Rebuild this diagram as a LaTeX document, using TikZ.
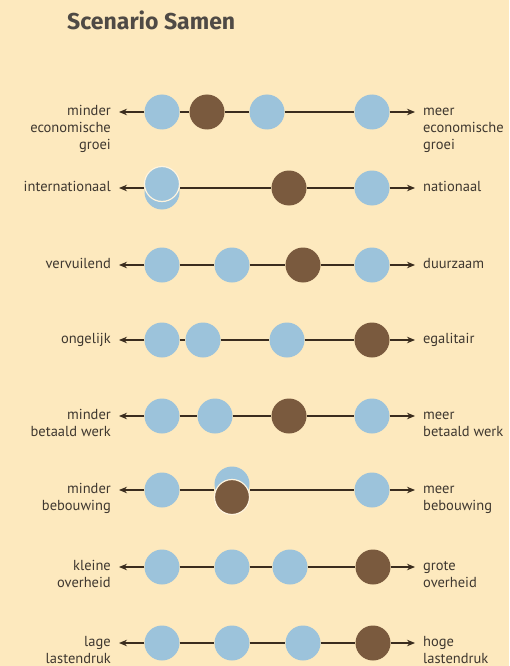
\documentclass[tikz,border=0pt]{standalone}
\usepackage{fontspec}
\setmainfont{PT Sans}
\newfontfamily\ttlfont{Fira Sans}
\usetikzlibrary{arrows.meta}
\definecolor{bg}{HTML}{FDE9BE}
\definecolor{bluec}{HTML}{9CC3DB}
\definecolor{brownc}{HTML}{7A5A3E}
\definecolor{linec}{HTML}{3A2C1E}
\definecolor{txt}{HTML}{3F3830}
\definecolor{ttl}{HTML}{4F4A45}
\begin{document}
\begin{tikzpicture}[x=1pt,y=-1pt,
  dot/.style={circle,inner sep=0pt,minimum size=35pt},
  bdot/.style={dot,fill=bluec},
  rdot/.style={dot,fill=brownc},
  topdot/.style={draw={rgb,255:red,255;green,244;blue,222},line width=1.2pt},
  conn/.style={draw=linec,line width=1.1pt},
  arr/.style={conn,-{Stealth[length=8pt,width=6.5pt]}},
  lbl/.style={text=txt,font=\fontsize{14.5}{17}\selectfont,inner sep=0pt},
  llbl/.style={lbl,anchor=base east,align=right},
  rlbl/.style={lbl,anchor=base west,align=left}]
\fill[bg] (0,0) rectangle (509,666);
\useasboundingbox (0,0) rectangle (509,666);
\node[anchor=base west,inner sep=0pt,text=ttl,font=\ttlfont\fontsize{23}{26}\selectfont\bfseries] (title) at (67,30) {Scenario Samen};
% row 1
\node[bdot] (a1) at (162,112) {};
\node[rdot] (b1) at (207,112) {};
\node[bdot] (c1) at (267,112) {};
\node[bdot] (d1) at (372,112) {};
\draw[conn] (a1) -- (b1); \draw[conn] (b1) -- (c1); \draw[conn] (c1) -- (d1);
\coordinate (l1) at (119,112); \coordinate (r1) at (415,112);
\draw[arr] (a1) -- (l1); \draw[arr] (d1) -- (r1);
\node[llbl] (tl1) at (111,149.5) {minder\\economische\\groei};
\node[rlbl] (tr1) at (423,149.5) {meer\\economische\\groei};
% row 2
\node[bdot] (a2b) at (162,192) {};
\node[bdot,topdot] (a2) at (162,184) {};
\node[rdot] (b2) at (289,188) {};
\node[bdot] (c2) at (372,188) {};
\draw[conn] (a2.east |- b2) -- (b2); \draw[conn] (b2) -- (c2);
\coordinate (l2) at (119,188); \coordinate (r2) at (415,188);
\draw[arr] (a2.west |- l2) -- (l2); \draw[arr] (c2) -- (r2);
\node[llbl] (tl2) at (111,191.5) {internationaal};
\node[rlbl] (tr2) at (423,191.5) {nationaal};
% row 3
\node[bdot] (a3) at (162,265) {};
\node[bdot] (b3) at (232,265) {};
\node[rdot] (c3) at (303,265) {};
\node[bdot] (d3) at (372,265) {};
\draw[conn] (a3) -- (b3); \draw[conn] (b3) -- (c3); \draw[conn] (c3) -- (d3);
\coordinate (l3) at (119,265); \coordinate (r3) at (415,265);
\draw[arr] (a3) -- (l3); \draw[arr] (d3) -- (r3);
\node[llbl] (tl3) at (111,268.5) {vervuilend};
\node[rlbl] (tr3) at (423,268.5) {duurzaam};
% row 4
\node[bdot] (a4) at (162,340) {};
\node[bdot] (b4) at (203,340) {};
\node[bdot] (c4) at (287,340) {};
\node[rdot] (d4) at (372,340) {};
\draw[conn] (a4) -- (b4); \draw[conn] (b4) -- (c4); \draw[conn] (c4) -- (d4);
\coordinate (l4) at (119,340); \coordinate (r4) at (415,340);
\draw[arr] (a4) -- (l4); \draw[arr] (d4) -- (r4);
\node[llbl] (tl4) at (111,343.5) {ongelijk};
\node[rlbl] (tr4) at (423,343.5) {egalitair};
% row 5
\node[bdot] (a5) at (162,416) {};
\node[bdot] (b5) at (215,416) {};
\node[rdot] (c5) at (289,416) {};
\node[bdot] (d5) at (372,416) {};
\draw[conn] (a5) -- (b5); \draw[conn] (b5) -- (c5); \draw[conn] (c5) -- (d5);
\coordinate (l5) at (119,416); \coordinate (r5) at (415,416);
\draw[arr] (a5) -- (l5); \draw[arr] (d5) -- (r5);
\node[llbl] (tl5) at (111,436.5) {minder\\betaald werk};
\node[rlbl] (tr5) at (423,436.5) {meer\\betaald werk};
% row 6
\node[bdot] (a6) at (162,490) {};
\node[bdot] (b6b) at (232,484) {};
\node[rdot,topdot] (b6) at (232,497) {};
\node[bdot] (c6) at (372,490) {};
\draw[conn] (a6) -- (a6 -| b6.west); \draw[conn] (b6.east |- c6) -- (c6);
\coordinate (l6) at (119,490); \coordinate (r6) at (415,490);
\draw[arr] (a6) -- (l6); \draw[arr] (c6) -- (r6);
\node[llbl] (tl6) at (111,510.5) {minder\\bebouwing};
\node[rlbl] (tr6) at (423,510.5) {meer\\bebouwing};
% row 7
\node[bdot] (a7) at (162,567) {};
\node[bdot] (b7) at (232,567) {};
\node[bdot] (c7) at (290,567) {};
\node[rdot] (d7) at (373,567) {};
\draw[conn] (a7) -- (b7); \draw[conn] (b7) -- (c7); \draw[conn] (c7) -- (d7);
\coordinate (l7) at (119,567); \coordinate (r7) at (415,567);
\draw[arr] (a7) -- (l7); \draw[arr] (d7) -- (r7);
\node[llbl] (tl7) at (111,587.5) {kleine\\overheid};
\node[rlbl] (tr7) at (423,587.5) {grote\\overheid};
% row 8
\node[bdot] (a8) at (162,643) {};
\node[bdot] (b8) at (232,643) {};
\node[bdot] (c8) at (303,643) {};
\node[rdot] (d8) at (373,643) {};
\draw[conn] (a8) -- (b8); \draw[conn] (b8) -- (c8); \draw[conn] (c8) -- (d8);
\coordinate (l8) at (119,643); \coordinate (r8) at (415,643);
\draw[arr] (a8) -- (l8); \draw[arr] (d8) -- (r8);
\node[llbl] (tl8) at (111,663.5) {lage\\lastendruk};
\node[rlbl] (tr8) at (423,663.5) {hoge\\lastendruk};
\end{tikzpicture}
\end{document}
